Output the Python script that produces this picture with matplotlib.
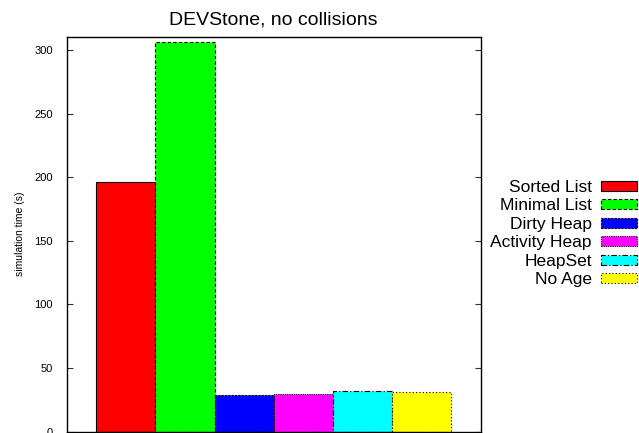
import matplotlib
matplotlib.use('Agg')
import matplotlib.pyplot as plt
import numpy as np

# data
labels = ['Sorted List', 'Minimal List', 'Dirty Heap', 'Activity Heap', 'HeapSet', 'No Age']
values = [196.4, 306.0, 29.0, 29.4, 32.3, 31.3]
colors = ['#ff0000', '#00ff00', '#0000ff', '#ff00ff', '#00ffff', '#ffff00']
styles = ['-', (0, (3, 2)), (0, (2, 1)), (0, (1, 1)), (0, (5, 2, 1, 2)), (0, (1, 2))]
yticks = [0, 50, 100, 150, 200, 250, 300]

plt.rcParams['font.family'] = ['Liberation Sans', 'DejaVu Sans']

fig = plt.figure(figsize=(6.39, 4.33), dpi=100)
ax = fig.add_axes([0.1044, 0.003, 0.6479, 0.9122])

x = np.arange(len(values))
for i in range(len(values)):
    ax.bar(x[i], values[i], width=1.0, color=colors[i], edgecolor='black',
           linewidth=0.8, linestyle=styles[i], label=labels[i])

ax.set_xlim(-1, 6)
ax.set_ylim(0, 310.5)
ax.set_xticks([])
ax.set_yticks(yticks)
ax.tick_params(axis='y', direction='in', length=4.3, width=0.8, labelsize=8,
               pad=10, right=True, colors='#333333', labelcolor='black')
for s in ax.spines.values():
    s.set_linewidth(1.0)
ax.set_ylabel('simulation time (s)', fontsize=7.5, labelpad=7)
ax.set_title('DEVStone, no collisions', fontsize=14, pad=9)

leg = fig.legend(loc='upper right', bbox_to_anchor=(637 / 639, 1 - 180 / 433),
                 markerfirst=False, frameon=False, fontsize=12.5, borderpad=0,
                 borderaxespad=0, handlelength=2.1, handleheight=0.5,
                 handletextpad=0.5, labelspacing=0.2)

fig.savefig('out.png', dpi=100)
